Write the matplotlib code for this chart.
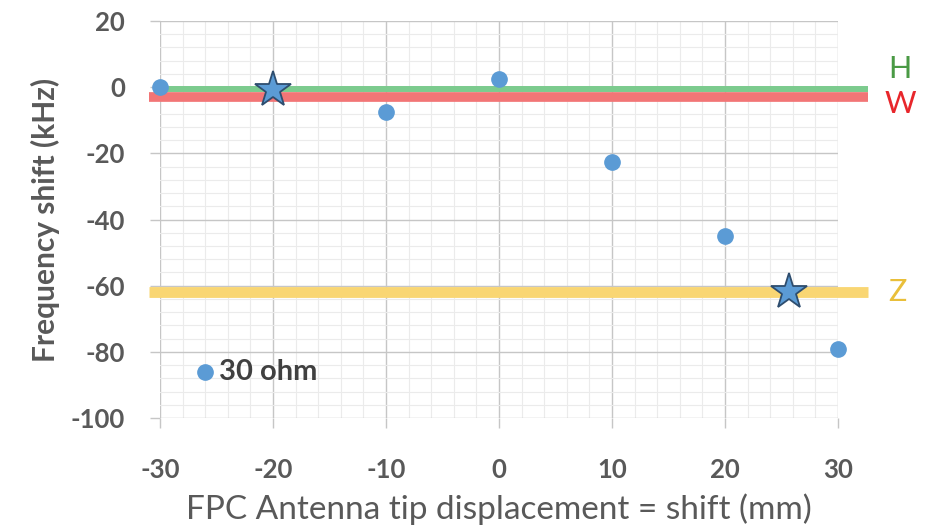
import matplotlib.pyplot as plt
from matplotlib.ticker import MultipleLocator

# measured frequency shift vs. antenna tip displacement, 30 ohm load
shift_mm = [-30, -10, 0, 10, 20, 30]
freq_khz = [0, -7.5, 2.5, -22.5, -45, -79]

# star markers: points where the curve meets the reference levels
star_x = [-20, 25.7]
star_y = [-1, -62]

# reference levels (kHz) for H, W and Z
level_names = ["H", "W", "Z"]
level_values = [-0.6, -3.0, -62.0]
level_colors = ["#7ccb8e", "#f27576", "#f9d673"]
level_text_colors = ["#4a9a45", "#e8262b", "#e9bf3a"]
level_widths = [4.3, 7.0, 7.8]

plt.rcParams['font.family'] = ['Lato', 'DejaVu Sans']
plt.rcParams['axes.unicode_minus'] = False

fig = plt.figure(figsize=(9.41, 5.29), dpi=100)
ax = fig.add_axes([0.170, 0.2098, 0.7205, 0.7505])

ax.set_xlim(-30, 30)
ax.set_ylim(-100, 20)
ax.xaxis.set_major_locator(MultipleLocator(10))
ax.xaxis.set_minor_locator(MultipleLocator(2))
ax.yaxis.set_major_locator(MultipleLocator(20))
ax.yaxis.set_minor_locator(MultipleLocator(4))
ax.grid(which="major", color="#c6c6c6", linewidth=1.0)
ax.grid(which="minor", color="#ebebeb", linewidth=0.8)
ax.set_axisbelow(True)
for s in ax.spines.values():
    s.set_visible(False)

ax.tick_params(which="major", length=7, width=1, color="#c6c6c6",
               labelsize=18.5, labelcolor="#595959")
ax.tick_params(which="minor", length=0)
ax.tick_params(axis="x", pad=22)
ax.tick_params(axis="y", pad=18)
for lbl in ax.get_xticklabels() + ax.get_yticklabels():
    lbl.set_fontweight("bold")

# reference bands, drawn slightly past the plot area
band_x = {"H": (-30, 32.7), "W": (-31, 32.7), "Z": (-31, 32.7)}
for name, val, col, lw in sorted(zip(level_names, level_values, level_colors, level_widths),
                                 key=lambda t: t[0] == "H"):
    ax.plot(band_x[name], [val, val], color=col, linewidth=lw,
            solid_capstyle="butt", clip_on=False, zorder=2)

ax.text(35.5, 5.5, "H", color=level_text_colors[0], fontsize=22, ha="center", va="center")
ax.text(35.5, -5.0, "W", color=level_text_colors[1], fontsize=22, ha="center", va="center")
ax.text(35.3, -62, "Z", color=level_text_colors[2], fontsize=22, ha="center", va="center")

ax.plot(shift_mm, freq_khz, linestyle="none", marker="o", markersize=11,
        color="#5b9bd5", clip_on=False, zorder=4)
ax.plot(star_x, star_y, linestyle="none", marker="*", markersize=27,
        markerfacecolor="#5b9bd5", markeredgecolor="#2e4d6e", markeredgewidth=1.3,
        clip_on=False, zorder=5)

# legend entry
ax.plot([-26], [-86], linestyle="none", marker="o", markersize=11, color="#5b9bd5", zorder=4)
ax.text(-24.8, -86, "30 ohm", color="#404040", fontsize=21, fontweight="bold",
        ha="left", va="center")

ax.set_ylabel("Frequency shift (kHz)", fontsize=21.5, fontweight="bold",
              color="#595959", labelpad=8)
ax.set_xlabel("FPC Antenna tip displacement = shift (mm)", fontsize=24,
              color="#595959", labelpad=8)

fig.savefig("out.png", dpi=100)
